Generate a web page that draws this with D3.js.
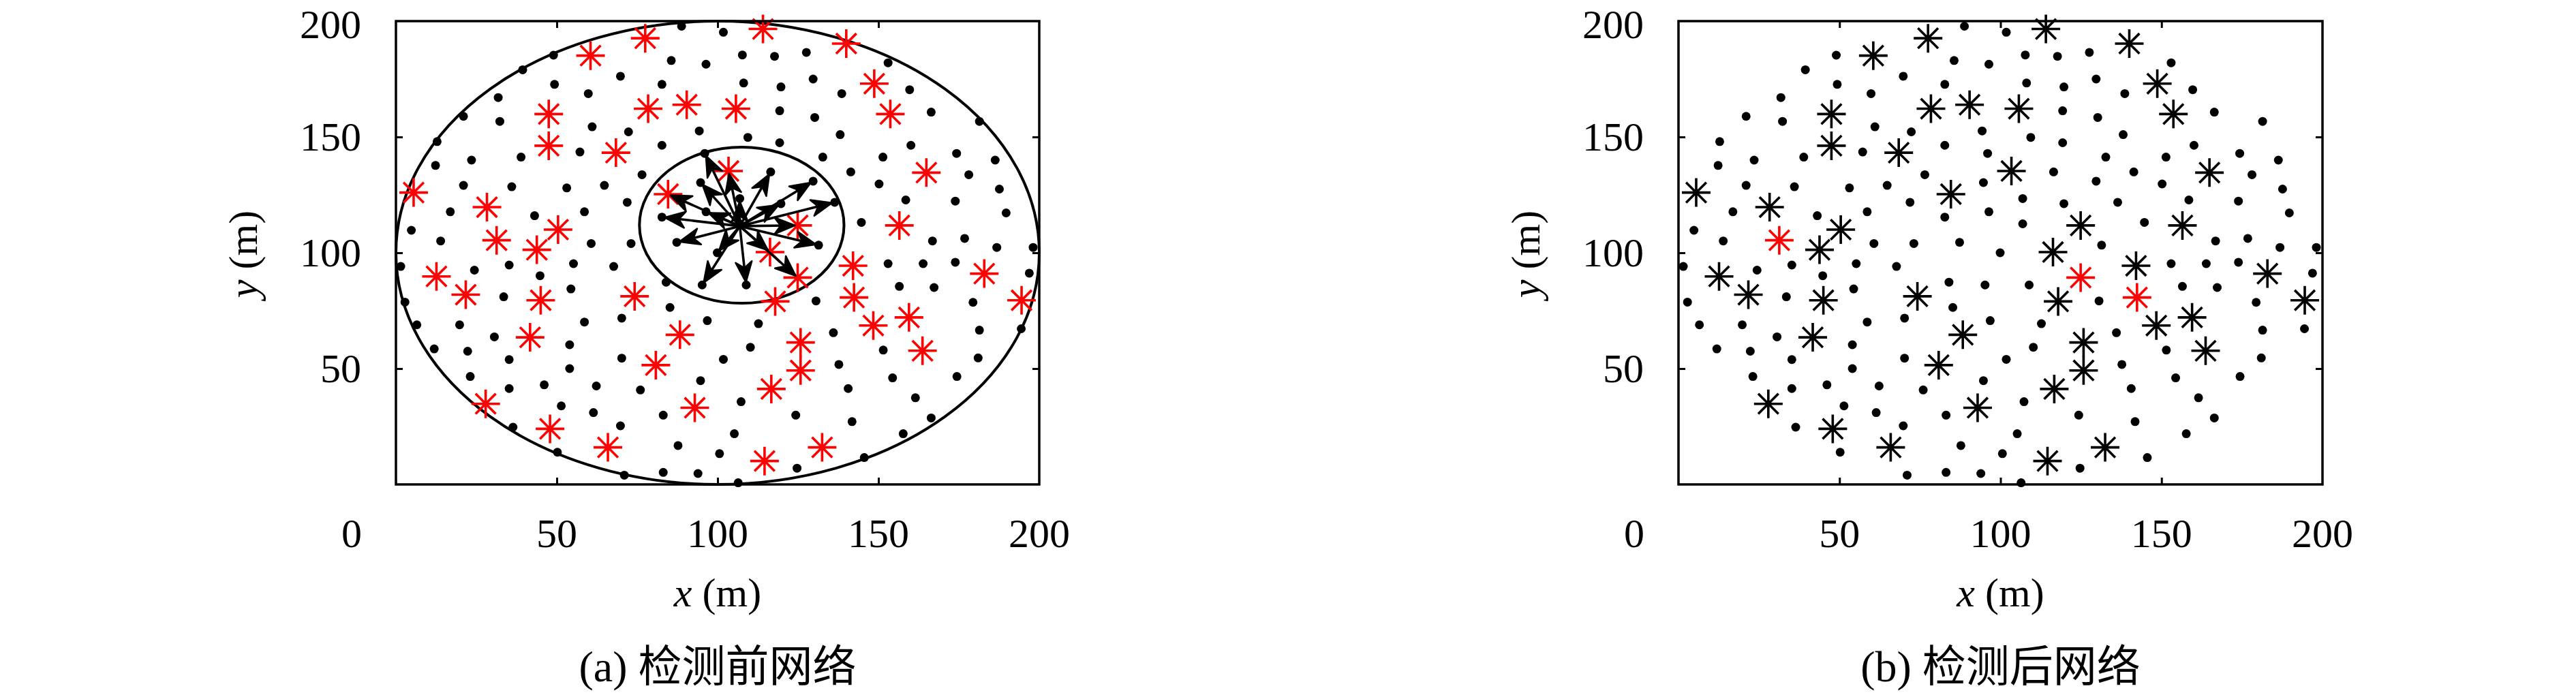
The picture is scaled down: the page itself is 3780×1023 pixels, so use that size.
<!DOCTYPE html>
<html><head><meta charset="utf-8">
<script src="https://cdn.jsdelivr.net/npm/d3@7"></script>
<style>body{margin:0;background:#fff}svg{display:block}</style>
</head><body>
<svg id="c" width="3780" height="1023"></svg>
<script>
// ---------- data ----------
const xTickLabels = ["0", "50", "100", "150", "200"];
const xTickValues = [0, 50, 100, 150, 200];
const yTickValues = [50, 100, 150, 200];
const innerTicks = [50, 100, 150];
const panelCaptions = ["(a) 检测前网络", "(b) 检测后网络"];

// ordinary sensor nodes (dots)
const sensorDots = [
[88.8,197.8],[49.0,185.3],[85.6,183.0],[96.4,181.4],[39.4,179.0],[69.8,176.2],[49.3,172.7],[82.7,172.7],
[59.8,168.7],[31.8,167.0],[21.0,158.9],[32.3,156.7],[61.0,154.4],[72.3,152.2],[94.3,152.6],[12.8,148.0],
[82.7,146.4],[57.2,143.5],[38.9,141.3],[23.5,140.0],[96.0,142.9],[12.3,137.7],[76.5,133.7],[21.0,129.1],
[36.0,128.5],[53.1,128.0],[64.8,129.1],[94.7,130.3],[71.9,121.8],[16.9,117.7],[43.1,116.0],[58.6,117.7],
[82.7,115.4],[96.4,117.7],[4.8,109.7],[13.9,105.1],[60.7,104.0],[73.1,104.0],[87.3,104.5],[99.9,100.0],
[101.8,195.2],[107.7,185.4],[117.7,184.8],[127.6,186.5],[153.0,182.0],[108.1,173.3],[119.7,171.6],[129.7,175.0],
[138.6,168.7],[159.7,170.4],[119.3,161.3],[130.2,158.4],[166.4,160.7],[181.4,156.7],[109.4,149.8],[119.3,147.5],
[138.1,151.0],[160.1,146.4],[132.7,141.3],[151.4,141.3],[174.3,142.9],[186.3,140.0],[116.5,134.9],[141.4,134.9],
[129.7,130.9],[150.2,129.7],[178.1,133.7],[187.6,127.5],[106.9,123.4],[119.7,121.2],[136.4,121.8],[158.5,122.8],
[173.9,122.3],[189.7,117.2],[106.9,112.5],[144.7,113.1],[131.4,103.3],[166.8,105.1],[176.8,106.2],[186.8,102.3],
[198.1,102.3],
[1.5,94.1],[35.2,94.7],[24.4,92.5],[55.2,95.3],[67.7,94.1],[44.8,90.1],[84.0,87.3],[95.2,86.1],
[2.8,78.7],[33.5,81.0],[54.4,84.4],[85.2,76.4],[6.5,68.9],[19.8,68.9],[58.6,70.1],[70.2,71.8],
[96.8,70.7],[30.6,63.7],[11.9,58.5],[22.3,57.5],[54.0,60.3],[70.2,54.5],[35.2,53.9],[54.0,50.0],
[23.1,46.6],[94.7,44.8],[35.2,41.4],[46.1,43.0],[62.3,42.5],[76.0,40.8],[51.4,33.9],[61.4,31.0],
[83.1,29.9],[36.4,24.7],[69.8,25.3],[87.7,16.8],[50.2,13.9],[71.0,4.0],[83.1,5.2],[93.9,4.7],
[108.9,86.1],[130.6,79.2],[153.0,95.3],[163.9,95.3],[173.9,95.9],[156.5,85.5],[167.3,85.0],[196.9,91.2],
[179.4,78.6],[112.7,69.4],[136.0,65.5],[181.4,66.6],[194.4,67.2],[110.2,59.2],[151.5,58.0],[137.7,51.8],
[181.0,54.6],[154.4,46.0],[174.4,46.6],[140.6,41.4],[107.3,35.7],[161.5,37.4],[124.3,29.9],[141.8,27.1],
[166.4,28.7],[105.2,21.9],[157.7,21.9],[124.7,7.0],[145.6,11.6],[106.4,0.7],[101.8,54.0],[100.6,13.3]
];

// flagged nodes that are confirmed after detection (asterisks)
const flaggedNodes = [
[77.5,192.6],[60.5,185.1],[47.5,159.9],[78.4,162.2],[90.4,163.9],[47.5,146.2],[68.4,143.2],[5.5,126.0],
[28.3,119.7],[84.6,125.3],[50.4,110.0],[43.8,101.3],
[114.1,196.6],[140.0,190.3],[148.7,173.0],[153.7,159.9],[105.7,162.2],[103.4,135.3],[164.9,134.6],[124.9,111.8],
[156.5,111.8],[116.3,100.3],
[12.6,89.8],[21.7,81.9],[45.0,79.5],[74.2,81.2],[41.7,63.5],[88.3,64.6],[80.8,51.5],[27.9,34.8],
[92.9,33.1],[47.9,24.0],[65.9,16.0],
[142.1,94.4],[117.9,79.0],[148.4,68.6],[159.5,72.1],[182.9,91.0],[194.5,79.5],[125.8,61.3],[125.8,49.2],
[163.7,57.7],[116.7,41.2],[132.5,16.0],[114.6,10.1]
];
// flagged nodes that stay red after detection
const residualNodes = [[31.3,105.4],[124.9,89.3],[142.4,80.7]];

// detection broadcast in panel (a)
const arrowSource = [106.9, 111.5];
const arrowTargets = [
[96.0,142.9],[94.7,130.3],[103.4,135.3],[106.9,123.4],[116.5,134.9],[129.7,130.9],[119.7,121.2],
[136.4,121.8],[124.9,111.8],[131.4,103.3],[116.3,100.3],[124.9,89.3],[108.9,86.1],[95.2,86.1],
[99.9,100.0],[87.3,104.5],[82.7,115.4],[84.6,125.3],[96.4,117.7]
];
const deployArea = {cx: 100, cy: 100, r: 100};
const commRange = {cx: 107.5, cy: 111.9, rx: 31.8, ry: 33.7};

// ---------- drawing ----------
const svg = d3.select("#c");
const FONT = "'Liberation Serif','Times New Roman',serif";
const CJK = "'Liberation Serif','Noto Sans CJK SC',serif";
const TOP = 31, BOTTOM = 711;
const frames = [[581, 1525], [2463, 3408]];
const DOT_R = 6.5, STAR_R = 21;

function starPath(r) {
  const d = r * 0.707;
  return `M0,${-r}V${r}M${-r},0H${r}M${-d},${-d}L${d},${d}M${-d},${d}L${d},${-d}`;
}

frames.forEach((f, i) => {
  const x = d3.scaleLinear().domain([0, 200]).range(f);
  const y = d3.scaleLinear().domain([0, 200]).range([BOTTOM, TOP]);
  const g = svg.append("g");

  if (i === 0) {
    g.append("ellipse")
      .attr("cx", x(deployArea.cx)).attr("cy", y(deployArea.cy))
      .attr("rx", x(deployArea.cx + deployArea.r) - x(deployArea.cx))
      .attr("ry", y(deployArea.cy) - y(deployArea.cy + deployArea.r))
      .attr("fill", "none").attr("stroke", "#000").attr("stroke-width", 4);
    g.append("ellipse")
      .attr("cx", x(commRange.cx)).attr("cy", y(commRange.cy))
      .attr("rx", x(commRange.cx + commRange.rx) - x(commRange.cx))
      .attr("ry", y(commRange.cy) - y(commRange.cy + commRange.ry))
      .attr("fill", "none").attr("stroke", "#000").attr("stroke-width", 4);
  }

  g.append("g").selectAll("circle").data(sensorDots).join("circle")
    .attr("cx", d => x(d[0])).attr("cy", d => y(d[1])).attr("r", DOT_R).attr("fill", "#000");

  const sp = starPath(STAR_R);
  const drawStars = (data, color) => g.append("g").selectAll("path").data(data).join("path")
    .attr("d", sp).attr("transform", d => `translate(${x(d[0])},${y(d[1])})`)
    .attr("fill", "none").attr("stroke", color).attr("stroke-width", 3.6).attr("stroke-linecap", "butt");

  if (i === 0) {
    drawStars(flaggedNodes.concat(residualNodes), "#ff0000");
    // arrows
    const sx = x(arrowSource[0]), sy = y(arrowSource[1]);
    const ag = g.append("g");
    arrowTargets.forEach(t => {
      const tx = x(t[0]), ty = y(t[1]);
      const ang = Math.atan2(ty - sy, tx - sx);
      const L = Math.hypot(tx - sx, ty - sy) - 4;
      const ex = sx + Math.cos(ang) * L, ey = sy + Math.sin(ang) * L;
      const a = ag.append("g").attr("transform", `translate(${ex},${ey}) rotate(${ang * 180 / Math.PI})`);
      a.append("line").attr("x1", -(L)).attr("y1", 0).attr("x2", -12).attr("y2", 0)
        .attr("stroke", "#000").attr("stroke-width", 3.6);
      a.append("path").attr("d", "M0,0L-30,-12L-21,0L-30,12Z").attr("fill", "#000")
        .attr("stroke", "#000").attr("stroke-width", 2.5).attr("stroke-linejoin", "round");
    });
  } else {
    drawStars(flaggedNodes, "#000");
    drawStars(residualNodes, "#ff0000");
  }

  // frame
  g.append("rect").attr("x", f[0]).attr("y", TOP).attr("width", f[1] - f[0]).attr("height", BOTTOM - TOP)
    .attr("fill", "none").attr("stroke", "#000").attr("stroke-width", 3.5);
  const tickStyle = sel => { sel.select(".domain").remove(); sel.selectAll("line").attr("stroke-width", 3); sel.selectAll("text").remove(); };
  g.append("g").attr("transform", `translate(0,${BOTTOM})`)
    .call(d3.axisBottom(x).tickValues(innerTicks).tickSize(-10).tickSizeOuter(0)).call(tickStyle);
  g.append("g").attr("transform", `translate(0,${TOP})`)
    .call(d3.axisTop(x).tickValues(innerTicks).tickSize(-10).tickSizeOuter(0)).call(tickStyle);
  g.append("g").attr("transform", `translate(${f[0]},0)`)
    .call(d3.axisLeft(y).tickValues(innerTicks).tickSize(-10).tickSizeOuter(0)).call(tickStyle);
  g.append("g").attr("transform", `translate(${f[1]},0)`)
    .call(d3.axisRight(y).tickValues(innerTicks).tickSize(-10).tickSizeOuter(0)).call(tickStyle);

  // tick labels (top label nudged down slightly to stay inside the page)
  g.append("g").selectAll("text").data(yTickValues).join("text")
    .attr("x", f[0] - 51).attr("y", d => Math.max(y(d), 36)).attr("dy", "0.34em")
    .attr("text-anchor", "end").attr("font-family", FONT).attr("font-size", 60).text(d => d);
  g.append("g").selectAll("text").data(xTickValues).join("text")
    .attr("x", (d, k) => k === 0 ? x(d) - 65 : x(d)).attr("y", 803)
    .attr("text-anchor", "middle").attr("font-family", FONT).attr("font-size", 60)
    .text((d, k) => xTickLabels[k]);

  // axis titles
  const cx = (f[0] + f[1]) / 2;
  const xt = g.append("text").attr("x", cx).attr("y", 890).attr("text-anchor", "middle")
    .attr("font-family", FONT).attr("font-size", 60);
  xt.append("tspan").attr("font-style", "italic").text("x");
  xt.append("tspan").text(" (m)");
  const yt = g.append("text").attr("transform", `translate(${f[0] - 224},${(TOP + BOTTOM) / 2 + 2}) rotate(-90)`)
    .attr("text-anchor", "middle").attr("dominant-baseline", "central")
    .attr("font-family", FONT).attr("font-size", 60);
  yt.append("tspan").attr("font-style", "italic").text("y");
  yt.append("tspan").text(" (m)");

  // caption
  g.append("text").attr("x", cx).attr("y", 1000).attr("text-anchor", "middle")
    .attr("font-family", CJK).attr("font-size", 64).text(panelCaptions[i]);
});
</script>
</body></html>
